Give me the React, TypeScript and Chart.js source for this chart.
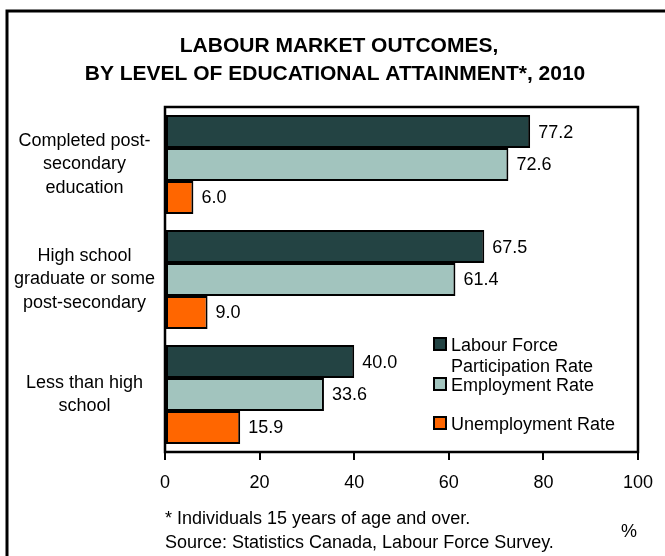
import React, { useEffect, useRef } from "react";
import { Chart, registerables } from "chart.js";

Chart.register(...registerables);

const categories = [
  ["Completed post-", "secondary", "education"],
  ["High school", "graduate or some", "post-secondary"],
  ["Less than high", "school"],
];
const seriesNames = ["Labour Force Participation Rate", "Employment Rate", "Unemployment Rate"];
const legendLines = [["Labour Force", "Participation Rate"], ["Employment Rate"], ["Unemployment Rate"]];
const participation = [77.2, 67.5, 40.0];
const employment = [72.6, 61.4, 33.6];
const unemployment = [6.0, 9.0, 15.9];
const xTicks = [0, 20, 40, 60, 80, 100];
const titleLines = ["LABOUR MARKET OUTCOMES,", "BY LEVEL OF EDUCATIONAL ATTAINMENT*, 2010"];
const footnotes = ["* Individuals 15 years of age and over.", "Source: Statistics Canada, Labour Force Survey."];
const unitLabel = "%";

const colors = ["#234343", "#a2c4be", "#ff6600"];
const FONT = "'Liberation Sans', Arial, Helvetica, sans-serif";

const decorPlugin = {
  id: "decor",
  beforeDraw(chart: any) {
    const ctx = chart.ctx;
    ctx.save();
    ctx.fillStyle = "#fff";
    ctx.fillRect(0, 0, chart.width, chart.height);
    // outer frame
    ctx.strokeStyle = "#000";
    ctx.lineWidth = 3;
    ctx.beginPath();
    ctx.moveTo(7, chart.height + 10);
    ctx.lineTo(7, 11);
    ctx.lineTo(chart.width + 10, 11);
    ctx.stroke();
    // title
    ctx.fillStyle = "#000";
    ctx.font = `bold 21px ${FONT}`;
    ctx.textAlign = "center";
    ctx.textBaseline = "alphabetic";
    ctx.fillText(titleLines[0], 339, 52);
    ctx.fillText(titleLines[1], 335, 80);
    ctx.restore();
  },
  afterDatasetsDraw(chart: any) {
    const ctx = chart.ctx;
    const area = chart.chartArea;
    ctx.save();
    // plot box
    ctx.strokeStyle = "#000";
    ctx.lineWidth = 2.5;
    ctx.strokeRect(area.left, area.top, area.right - area.left, area.bottom - area.top);
    // value labels
    ctx.fillStyle = "#000";
    ctx.font = `18px ${FONT}`;
    ctx.textAlign = "left";
    ctx.textBaseline = "middle";
    chart.data.datasets.forEach((ds: any, i: number) => {
      const meta = chart.getDatasetMeta(i);
      meta.data.forEach((bar: any, j: number) => {
        ctx.fillText(Number(ds.data[j]).toFixed(1), bar.x + 8, bar.y + 1);
      });
    });
    // legend
    const boxX = 433;
    const boxYs = [337, 377, 416];
    ctx.textBaseline = "alphabetic";
    legendLines.forEach((lines, i) => {
      ctx.fillStyle = colors[i];
      ctx.fillRect(boxX, boxYs[i], 14, 14);
      ctx.strokeStyle = "#000";
      ctx.lineWidth = 2;
      ctx.strokeRect(boxX + 1, boxYs[i] + 1, 12, 12);
      ctx.fillStyle = "#000";
      lines.forEach((line, k) => {
        ctx.fillText(line, boxX + 18, boxYs[i] + 14 + k * 21);
      });
    });
    // footnotes
    ctx.font = `18px ${FONT}`;
    ctx.fillText(footnotes[0], 165, 524);
    ctx.fillText(footnotes[1], 165, 548);
    ctx.fillText(unitLabel, 621, 537);
    ctx.restore();
  },
};

export default function App() {
  const ref = useRef<HTMLCanvasElement | null>(null);
  useEffect(() => {
    if (!ref.current) return;
    Chart.defaults.font.family = FONT;
    const chart = new Chart(ref.current, {
      type: "bar",
      data: {
        labels: categories,
        datasets: [participation, employment, unemployment].map((d, i) => ({
          label: seriesNames[i],
          data: d,
          backgroundColor: colors[i],
          borderColor: "#000",
          borderWidth: 2,
          borderSkipped: false,
          categoryPercentage: 0.86,
          barPercentage: 1.0,
        })),
      },
      options: {
        indexAxis: "y",
        animation: false,
        responsive: false,
        layout: { padding: { top: 107, right: 25, bottom: 64, left: 0 } },
        plugins: {
          legend: { display: false },
          title: { display: false },
          tooltip: { enabled: false },
        },
        scales: {
          x: {
            type: "linear",
            min: xTicks[0],
            max: xTicks[xTicks.length - 1],
            afterBuildTicks: (scale: any) => {
              scale.ticks = xTicks.map((v) => ({ value: v }));
            },
            afterFit: (scale: any) => {
              scale.height = 40;
            },
            ticks: {
              color: "#000",
              font: { size: 18, family: FONT },
              padding: 12,
              maxRotation: 0,
              callback: (v: any) => String(v),
            },
            grid: {
              drawOnChartArea: false,
              drawTicks: true,
              tickLength: 8,
              color: "#000",
              lineWidth: 2,
            },
            border: { display: false },
          },
          y: {
            type: "category",
            afterFit: (scale: any) => {
              scale.width = 165;
            },
            ticks: {
              color: "#000",
              font: { size: 18, family: FONT, lineHeight: 1.3 },
              crossAlign: "center",
              padding: 10,
            },
            grid: { display: false, drawTicks: false },
            border: { display: false },
          },
        },
      },
      plugins: [decorPlugin],
    } as any);
    return () => chart.destroy();
  }, []);
  return (
    <div style={{ position: "fixed", left: 0, top: 0, width: 665, height: 556 }}>
      <canvas ref={ref} width={665} height={556} style={{ display: "block" }} />
    </div>
  );
}
